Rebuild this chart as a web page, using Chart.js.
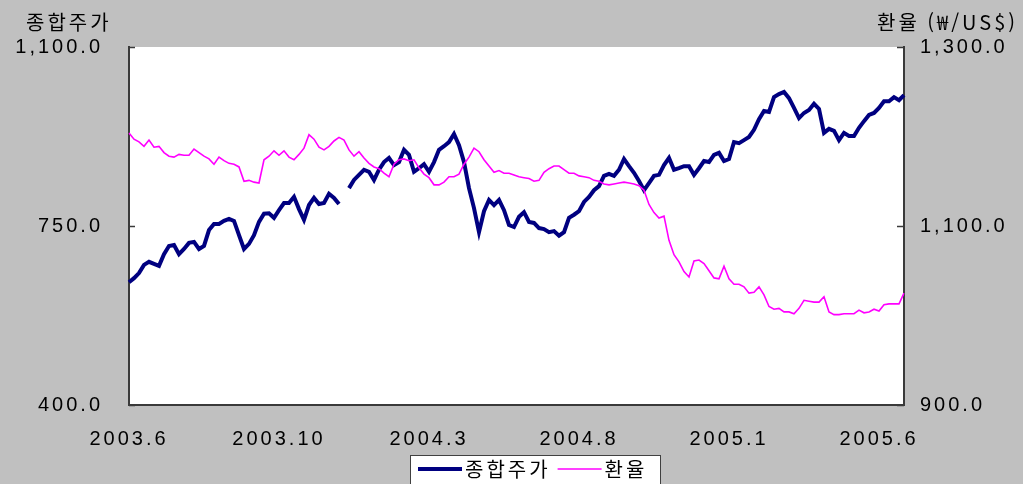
<!DOCTYPE html>
<html lang="ko">
<head>
<meta charset="utf-8">
<title>종합주가와 환율</title>
<script src="https://cdn.jsdelivr.net/npm/chart.js@4.4.0/dist/chart.umd.min.js"></script>
<style>
  html, body { margin: 0; padding: 0; background: #c0c0c0; }
  #chart { display: block; }
</style>
</head>
<body>
<canvas id="chart" width="1023" height="484"></canvas>
<script>
// x-axis labels (one every 30 samples)
const tickLabels = ['2003.6', '2003.10', '2004.3', '2004.8', '2005.1', '2005.6'];
const seriesNames = ['종합주가', '환율'];
const axisTitles = ['종합주가', '환율 (₩/US$)'];

// KOSPI composite index
const kospi = [
  640, 648, 658, 674, 680, 676, 672, 695, 711, 713,
  695, 705, 717, 719, 705, 711, 742, 754, 754, 760,
  764, 760, 732, 705, 715, 732, 758, 774, 775, 766,
  781, 795, 795, 807, 783, 762, 791, 805, 793, 795,
  813, 805, 793, null, 824, 840, 850, 860, 856, 840,
  860, 875, 883, 869, 875, 899, 889, 856, 863, 871,
  856, 875, 899, 906, 914, 930, 908, 875, 824, 785,
  738, 779, 801, 791, 801, 781, 752, 748, 768, 777,
  758, 756, 746, 744, 738, 740, 731, 738, 766, 772,
  779, 797, 807, 820, 828, 848, 852, 848, 860, 881,
  867, 854, 838, 820, 834, 848, 850, 869, 883, 860,
  863, 867, 867, 850, 863, 877, 875, 889, 893, 877,
  881, 914, 912, 918, 924, 938, 959, 975, 973, 1002,
  1008, 1012, 1000, 981, 961, 971, 977, 989, 979, 932,
  940, 936, 918, 932, 926, 926, 942, 955, 967, 971,
  981, 994, 994, 1002, 996, 1006
];

// won per US dollar
const won = [
  1204, 1197, 1194, 1189, 1196, 1188, 1189, 1182, 1178, 1177,
  1180, 1179, 1179, 1186, 1182, 1178, 1175, 1169, 1177, 1173,
  1170, 1169, 1166, 1150, 1151, 1149, 1148, 1174, 1178, 1184,
  1179, 1184, 1177, 1174, 1180, 1187, 1202, 1197, 1188, 1185,
  1189, 1195, 1199, 1196, 1185, 1178, 1183, 1176, 1170, 1166,
  1164, 1159, 1155, 1169, 1174, 1175, 1173, 1174, 1165, 1158,
  1154, 1146, 1146, 1149, 1155, 1155, 1158, 1169, 1177, 1187,
  1183, 1174, 1167, 1160, 1162, 1159, 1159, 1157, 1155, 1154,
  1153, 1150, 1151, 1160, 1164, 1167, 1167, 1163, 1159, 1159,
  1156, 1155, 1154, 1151, 1150, 1147, 1146, 1147, 1148, 1149,
  1148, 1147, 1145, 1140, 1124, 1115, 1109, 1111, 1084, 1068,
  1060, 1049, 1043, 1061, 1062, 1058, 1050, 1042, 1041, 1055,
  1041, 1035, 1035, 1032, 1025, 1026, 1032, 1023, 1010, 1007,
  1008, 1004, 1004, 1002, 1008, 1017, 1016, 1015, 1015, 1021,
  1004, 1001, 1001, 1002, 1002, 1002, 1006, 1003, 1004, 1007,
  1005, 1012, 1013, 1013, 1013, 1025
];

const FONT = "'Liberation Sans', 'Noto Sans CJK KR', sans-serif";
const KFONT = "'Noto Sans CJK KR', 'Liberation Sans', sans-serif";
const AXIS_COLOR = '#3a3a3a';

const fmt = v => v.toLocaleString('en-US', { minimumFractionDigits: 1, maximumFractionDigits: 1 });

// gray page, white plot, inward ticks, titles and the boxed legend
const frame = {
  id: 'frame',
  beforeDraw(chart) {
    const { ctx, chartArea: a } = chart;
    ctx.save();
    ctx.fillStyle = '#c0c0c0';
    ctx.fillRect(0, 0, chart.width, chart.height);
    ctx.fillStyle = '#ffffff';
    ctx.fillRect(a.left, a.top, a.right - a.left, a.bottom - a.top);
    ctx.restore();
    ctx.letterSpacing = '3px';
  },
  afterDraw(chart) {
    const { ctx, chartArea: a } = chart;
    ctx.save();
    ctx.strokeStyle = AXIS_COLOR;
    ctx.lineWidth = 1.5;
    chart.scales.y.ticks.forEach(t => {
      const y = Math.round(chart.scales.y.getPixelForValue(t.value)) + 0.5;
      ctx.beginPath(); ctx.moveTo(a.left, y); ctx.lineTo(a.left + 6, y); ctx.stroke();
    });
    chart.scales.y1.ticks.forEach(t => {
      const y = Math.round(chart.scales.y1.getPixelForValue(t.value)) + 0.5;
      ctx.beginPath(); ctx.moveTo(a.right - 7, y); ctx.lineTo(a.right, y); ctx.stroke();
    });

    // axis titles
    ctx.fillStyle = '#000';
    ctx.font = '20px ' + KFONT;
    ctx.letterSpacing = '3px';
    ctx.textBaseline = 'middle';
    ctx.textAlign = 'left';
    ctx.fillText(axisTitles[0], 26, 22);
    ctx.textAlign = 'right';
    ctx.fillText(axisTitles[1], 1018, 22);

    // legend box
    const bx = 410, by = 455, bw = 250;
    ctx.fillStyle = '#fff';
    ctx.fillRect(bx, by, bw, chart.height - by + 5);
    ctx.strokeStyle = '#404040';
    ctx.lineWidth = 1;
    ctx.strokeRect(bx + 0.5, by + 0.5, bw, chart.height - by + 5);

    let x = bx + 8;
    const ly = by + 14;
    ctx.textAlign = 'left';
    chart.data.datasets.slice().sort((p, q) => p.legendIndex - q.legendIndex).forEach(ds => {
      ctx.strokeStyle = ds.borderColor;
      ctx.lineWidth = ds.borderWidth;
      ctx.beginPath(); ctx.moveTo(x, ly); ctx.lineTo(x + 44, ly); ctx.stroke();
      x += 47;
      ctx.fillStyle = '#000';
      ctx.fillText(ds.label, x, ly);
      x += ctx.measureText(ds.label).width + 7;
    });
    ctx.restore();
    ctx.letterSpacing = '0px';
  }
};

Chart.defaults.font.family = FONT;
Chart.defaults.font.size = 20;
Chart.defaults.color = '#000';

new Chart(document.getElementById('chart'), {
  type: 'line',
  data: {
    labels: kospi.map((_, i) => i),
    datasets: [
      {
        label: seriesNames[1],
        legendIndex: 1,
        data: won,
        yAxisID: 'y1',
        borderColor: '#ff00ff',
        borderWidth: 1.6,
        pointRadius: 0,
        tension: 0,
        order: 0
      },
      {
        label: seriesNames[0],
        legendIndex: 0,
        data: kospi,
        yAxisID: 'y',
        borderColor: '#000080',
        borderWidth: 4,
        pointRadius: 0,
        tension: 0,
        spanGaps: false,
        order: 1
      }
    ]
  },
  options: {
    responsive: false,
    animation: false,
    devicePixelRatio: 1,
    layout: { padding: { top: 47, left: 0, right: 0, bottom: 0 } },
    plugins: { legend: { display: false }, tooltip: { enabled: false } },
    scales: {
      x: {
        type: 'category',
        grid: { display: false, drawTicks: false },
        border: { display: true, color: AXIS_COLOR, width: 2 },
        ticks: {
          autoSkip: false,
          maxRotation: 0,
          padding: 22,
          callback: (v, i) => (i % 30 === 0 ? tickLabels[i / 30] : '')
        },
        afterFit: s => { s.height = 79; }
      },
      y: {
        position: 'left',
        min: 400,
        max: 1100,
        grid: { display: false, drawTicks: false },
        border: { display: true, color: AXIS_COLOR, width: 2 },
        ticks: { stepSize: 350, padding: 26, callback: fmt },
        afterFit: s => { s.width = 129; }
      },
      y1: {
        position: 'right',
        min: 900,
        max: 1300,
        grid: { display: false, drawTicks: false },
        border: { display: true, color: AXIS_COLOR, width: 2 },
        ticks: { stepSize: 200, padding: 16, callback: fmt },
        afterFit: s => { s.width = 119; }
      }
    }
  },
  plugins: [frame]
});
</script>
</body>
</html>
